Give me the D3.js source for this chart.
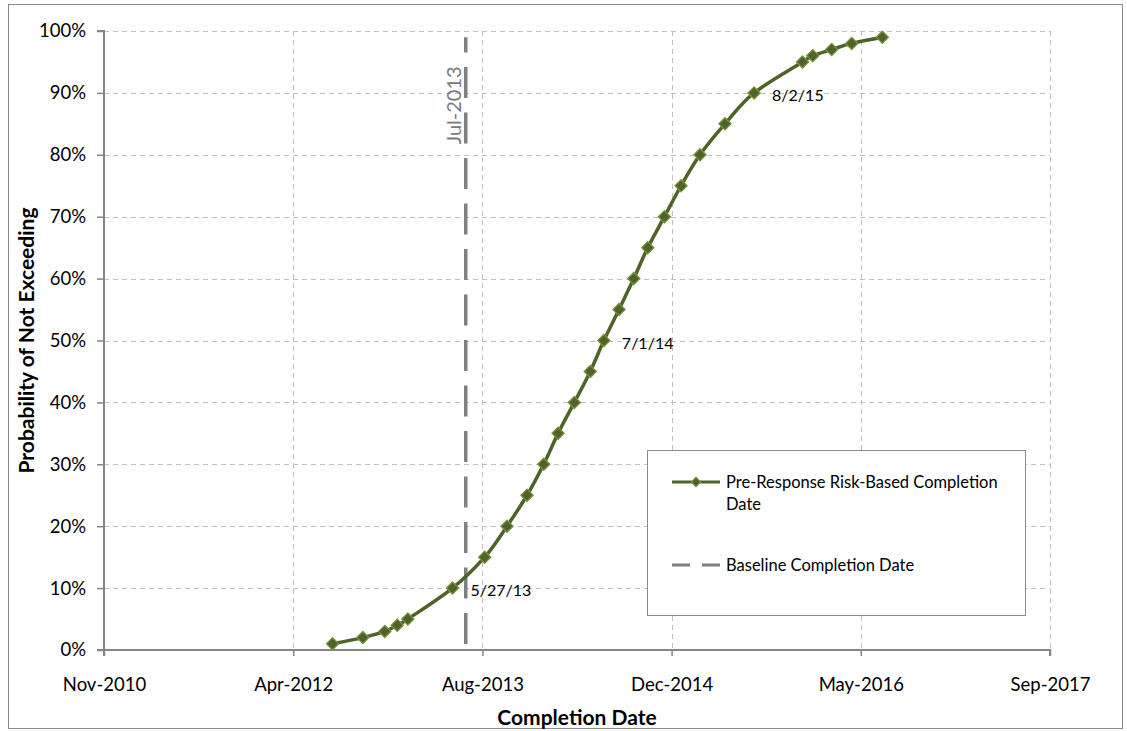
<!DOCTYPE html>
<html>
<head>
<meta charset="utf-8">
<script src="https://cdn.jsdelivr.net/npm/d3@7"></script>
<style>
  html, body { margin: 0; padding: 0; background: #fff; }
  svg { display: block; font-family: Lato, "Open Sans", sans-serif; }
</style>
</head>
<body>
<svg id="chart" width="1127" height="731"></svg>
<script>
// Risk-based completion date distribution (cumulative probability)
const completionDates = [
  "2012-07-14", "2012-10-02", "2012-11-29", "2013-01-01", "2013-01-29",
  "2013-05-27", "2013-08-20", "2013-10-18", "2013-12-10", "2014-01-23",
  "2014-03-02", "2014-04-14", "2014-05-26", "2014-07-01", "2014-08-10",
  "2014-09-18", "2014-10-25", "2014-12-08", "2015-01-21", "2015-03-12",
  "2015-05-17", "2015-08-02", "2015-12-08", "2016-01-04", "2016-02-23",
  "2016-04-16", "2016-07-06"
];
const probabilities = [
  0.01, 0.02, 0.03, 0.04, 0.05,
  0.10, 0.15, 0.20, 0.25, 0.30,
  0.35, 0.40, 0.45, 0.50, 0.55,
  0.60, 0.65, 0.70, 0.75, 0.80,
  0.85, 0.90, 0.95, 0.96, 0.97,
  0.98, 0.99
];
// points that carry a date label
const labelledProbabilities = [0.10, 0.50, 0.90];

// Baseline completion date (vertical reference line)
const baselineDates = ["2013-07-01", "2013-07-01"];
const baselineProbabilities = [0, 0.99];
const baselineLabel = "Jul-2013";

// Axis settings
const xStart = "2010-11-18";
const xEnd = "2017-09-22";
const xStepDays = 500;
const yTicks = [0, 0.1, 0.2, 0.3, 0.4, 0.5, 0.6, 0.7, 0.8, 0.9, 1.0];

const seriesNames = ["Pre-Response Risk-Based Completion Date", "Baseline Completion Date"];
const xTitle = "Completion Date";
const yTitle = "Probability of Not Exceeding";

const parse = d3.utcParse("%Y-%m-%d");
const fmtTick = d3.utcFormat("%b-%Y");
const fmtLabel = d3.utcFormat("%-m/%-d/%y");

const series = completionDates.map((d, i) => ({ date: parse(d), p: probabilities[i] }));
const baseline = baselineDates.map((d, i) => ({ date: parse(d), p: baselineProbabilities[i] }));

const svg = d3.select("#chart");
const plot = { left: 104, right: 1050, top: 31, bottom: 650 };

const GREEN = "#4f6228";
const GREEN_LIGHT = "#77933c";
const GRAY = "#808080";
const AXIS = "#868686";
const GRID = "#c0c0c0";

// outer chart border
svg.append("rect")
  .attr("x", 8.5).attr("y", 4.5)
  .attr("width", 1114).attr("height", 724)
  .attr("fill", "#fff").attr("stroke", "#8c8c8c").attr("stroke-width", 1);

const x0 = parse(xStart), x1 = parse(xEnd);
const x = d3.scaleUtc().domain([x0, x1]).range([plot.left, plot.right]);
const y = d3.scaleLinear().domain([0, 1]).range([plot.bottom, plot.top]);

const xTickValues = d3.range(0, 6).map(i => d3.utcDay.offset(x0, xStepDays * i));

// gridlines
const grid = svg.append("g").attr("class", "grid");
grid.selectAll("line.h").data(yTicks.filter(t => t > 0)).join("line")
  .attr("x1", plot.left).attr("x2", plot.right)
  .attr("y1", d => Math.round(y(d)) + 0.5).attr("y2", d => Math.round(y(d)) + 0.5)
  .attr("stroke", GRID).attr("stroke-width", 1).attr("stroke-dasharray", "5,4");
grid.selectAll("line.v").data(xTickValues.slice(1)).join("line")
  .attr("x1", d => Math.round(x(d)) + 0.5).attr("x2", d => Math.round(x(d)) + 0.5)
  .attr("y1", plot.top).attr("y2", plot.bottom)
  .attr("stroke", GRID).attr("stroke-width", 1).attr("stroke-dasharray", "5,4");

// axes
const yAxis = d3.axisLeft(y).tickValues(yTicks).tickFormat(d3.format(".0%"))
  .tickSize(7).tickPadding(11);
const xAxis = d3.axisBottom(x).tickValues(xTickValues).tickFormat(fmtTick)
  .tickSize(6).tickPadding(22);

const gy = svg.append("g").attr("transform", `translate(${plot.left},0)`).call(yAxis);
const gx = svg.append("g").attr("transform", `translate(0,${plot.bottom})`).call(xAxis);
[gx, gy].forEach(g => {
  g.select(".domain").attr("stroke", AXIS).attr("stroke-width", 2);
  g.selectAll(".tick line").attr("stroke", AXIS).attr("stroke-width", 1.5);
  g.selectAll(".tick text").attr("fill", "#000").attr("font-size", 18.5)
    .attr("font-family", "Lato, sans-serif");
});
gy.select(".domain").attr("d", `M-7,${plot.top}H0V${plot.bottom}H-7`);
gx.select(".domain").attr("d", `M${plot.left},6V0H${plot.right}V6`);

// axis titles
svg.append("text")
  .attr("x", (plot.left + plot.right) / 2).attr("y", 725)
  .attr("text-anchor", "middle").attr("font-weight", "bold").attr("font-size", 21)
  .text(xTitle);
svg.append("text")
  .attr("transform", `translate(34,${(plot.top + plot.bottom) / 2}) rotate(-90)`)
  .attr("text-anchor", "middle").attr("font-weight", "bold").attr("font-size", 21)
  .text(yTitle);

// baseline dashed line
const line = d3.line().x(d => x(d.date)).y(d => y(d.p));
svg.append("path")
  .attr("d", line(baseline))
  .attr("fill", "none").attr("stroke", GRAY).attr("stroke-width", 3.5)
  .attr("stroke-dasharray", "31,14.5").attr("stroke-dashoffset", 39.5);

svg.append("text")
  .attr("transform", `translate(${x(baseline[0].date) - 13},${y(0.88)}) rotate(-90)`)
  .attr("text-anchor", "middle").attr("dominant-baseline", "central")
  .attr("fill", "#7a7a7a").attr("font-size", 20)
  .text(baselineLabel);

// risk-based completion curve
const curve = d3.line().x(d => x(d.date)).y(d => y(d.p)).curve(d3.curveCatmullRom.alpha(0));
svg.append("path")
  .attr("d", curve(series))
  .attr("fill", "none").attr("stroke", GREEN).attr("stroke-width", 3.5);

svg.append("g").selectAll("path").data(series).join("path")
  .attr("transform", d => `translate(${x(d.date)},${y(d.p)}) rotate(45)`)
  .attr("d", d3.symbol().type(d3.symbolSquare).size(74))
  .attr("fill", GREEN).attr("stroke", GREEN_LIGHT).attr("stroke-width", 1.3);

// date labels
svg.append("g").selectAll("text")
  .data(series.filter(d => labelledProbabilities.includes(d.p)))
  .join("text")
  .attr("x", d => x(d.date) + 18).attr("y", d => y(d.p) + 1.5)
  .attr("dominant-baseline", "central").attr("font-size", 16).attr("fill", "#000")
  .text(d => fmtLabel(d.date));

// legend
const lg = svg.append("g").attr("transform", "translate(647,450)");
lg.append("rect").attr("x", 0.5).attr("y", 0.5).attr("width", 378).attr("height", 165)
  .attr("fill", "#fff").attr("stroke", "#8c8c8c").attr("stroke-width", 1);
lg.append("line").attr("x1", 25).attr("x2", 73).attr("y1", 32).attr("y2", 32)
  .attr("stroke", GREEN).attr("stroke-width", 3);
lg.append("path").attr("transform", "translate(49,32) rotate(45)")
  .attr("d", d3.symbol().type(d3.symbolSquare).size(44))
  .attr("fill", GREEN).attr("stroke", GREEN_LIGHT).attr("stroke-width", 1.2);
const t1 = lg.append("text").attr("x", 79).attr("y", 32).attr("font-size", 16.5)
  .attr("dominant-baseline", "central");
const words = seriesNames[0].split(" ");
t1.append("tspan").attr("x", 79).text(words.slice(0, -1).join(" "));
t1.append("tspan").attr("x", 79).attr("dy", 22).text(words[words.length - 1]);
lg.append("line").attr("x1", 25).attr("x2", 73).attr("y1", 115).attr("y2", 115)
  .attr("stroke", GRAY).attr("stroke-width", 3).attr("stroke-dasharray", "18,12");
lg.append("text").attr("x", 79).attr("y", 115).attr("font-size", 16.5)
  .attr("dominant-baseline", "central").text(seriesNames[1]);
</script>
</body>
</html>
